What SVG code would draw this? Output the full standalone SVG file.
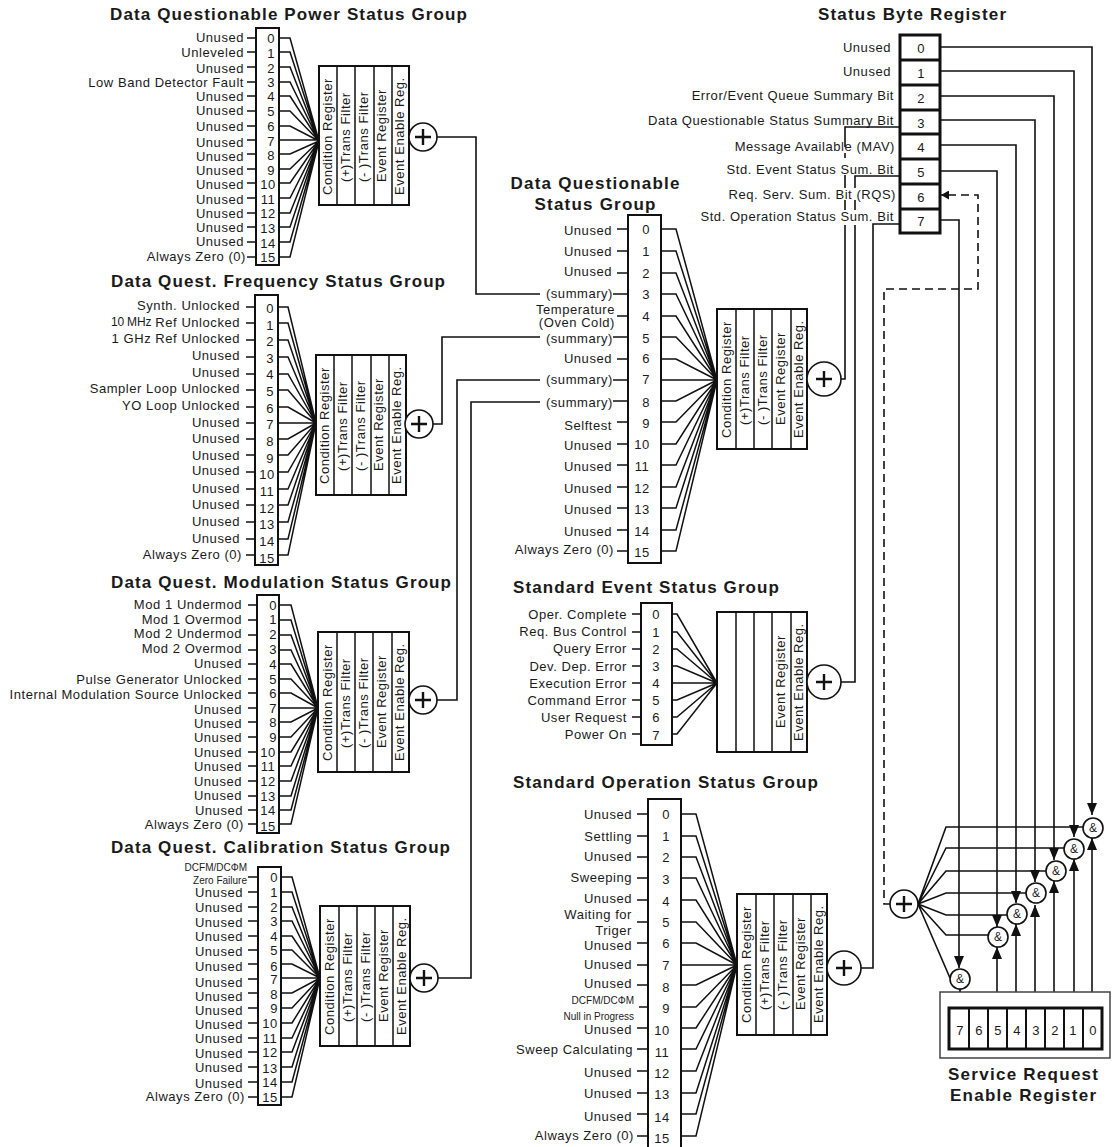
<svg xmlns="http://www.w3.org/2000/svg" width="1113" height="1147" viewBox="0 0 1113 1147">
<style>
text{font-family:"Liberation Sans",Arial,sans-serif;fill:#1a1a1a}
.t{font-size:17px;font-weight:bold}
.l{font-size:13px;letter-spacing:.55px;text-anchor:end;dominant-baseline:central}
.s{font-size:10px;letter-spacing:0;text-anchor:end;dominant-baseline:central}
.n{font-size:13px;letter-spacing:.5px;text-anchor:middle;dominant-baseline:central}
.v{font-size:13px;letter-spacing:.55px}
.a{font-size:12px;text-anchor:middle;dominant-baseline:central}
.box{fill:#fff;stroke:#111;stroke-width:2}
.hv{fill:#fff;stroke:#111;stroke-width:3}
.thin{fill:#fff;stroke:#444;stroke-width:1.5}
.d{fill:none;stroke:#111;stroke-width:1.6}
.c{fill:none;stroke:#111;stroke-width:1.5}
.dash{fill:none;stroke:#111;stroke-width:1.6;stroke-dasharray:8 5}
.or{fill:#fff;stroke:#111;stroke-width:1.6}
.p{fill:none;stroke:#111;stroke-width:2.4}
</style>
<defs>
<marker id="arr" viewBox="0 0 12 10" refX="12" refY="5" markerWidth="12" markerHeight="10" markerUnits="userSpaceOnUse" orient="auto"><path d="M0 0L12 5L0 10z" fill="#111"/></marker>
<marker id="arrs" viewBox="0 0 8 9" refX="8" refY="4.5" markerWidth="8" markerHeight="9" markerUnits="userSpaceOnUse" orient="auto"><path d="M0 0L8 4.500L0 9z" fill="#111"/></marker>
</defs>
<g id="connectors">
<path class="c" d="M247 38H256M247 52H256M247 67H256M247 82H256M247 96H256M247 111H256M247 126H256M247 140H256M247 154H256M247 169H256M247 183H256M247 198H256M247 213H256M247 227H256M247 242H256M247 257H256"/>
<path class="c" d="M279 38H290L319 141M279 52H290L319 141M279 67H290L319 141M279 82H290L319 141M279 96H290L319 141M279 111H290L319 141M279 126H290L319 141M279 140H319M279 154H290L319 141M279 169H290L319 141M279 183H290L319 141M279 198H290L319 141M279 213H290L319 141M279 227H290L319 141M279 242H290L319 141M279 257H290L319 141"/>
<path class="c" d="M246 307H255M246 323H255M246 340H255M246 357H255M246 374H255M246 390H255M246 407H255M246 423H255M246 439H255M246 455H255M246 472H255M246 489H255M246 505H255M246 522H255M246 539H255M246 555H255"/>
<path class="c" d="M278 307H288L316 423M278 323H288L316 423M278 340H288L316 423M278 357H288L316 423M278 374H288L316 423M278 390H288L316 423M278 407H288L316 423M278 423H316M278 439H288L316 423M278 455H288L316 423M278 472H288L316 423M278 489H288L316 423M278 505H288L316 423M278 522H288L316 423M278 539H288L316 423M278 555H288L316 423"/>
<path class="c" d="M248 605H257M248 620H257M248 635H257M248 650H257M248 664H257M248 679H257M248 693H257M248 708H257M248 722H257M248 737H257M248 752H257M248 766H257M248 781H257M248 796H257M248 810H257M248 824H257"/>
<path class="c" d="M279 605H291L318 708M279 620H291L318 708M279 635H291L318 708M279 650H291L318 708M279 664H291L318 708M279 679H291L318 708M279 693H291L318 708M279 708H318M279 722H291L318 708M279 737H291L318 708M279 752H291L318 708M279 766H291L318 708M279 781H291L318 708M279 796H291L318 708M279 810H291L318 708M279 824H291L318 708"/>
<path class="c" d="M248 877H258M248 892H258M248 907H258M248 921H258M248 936H258M248 950H258M248 964H258M248 979H258M248 993H258M248 1008H258M248 1023H258M248 1038H258M248 1052H258M248 1067H258M248 1082H258M248 1097H258"/>
<path class="c" d="M281 877H292L320 978M281 892H292L320 978M281 907H292L320 978M281 921H292L320 978M281 936H292L320 978M281 950H292L320 978M281 964H292L320 978M281 978H320M281 993H292L320 978M281 1008H292L320 978M281 1023H292L320 978M281 1038H292L320 978M281 1052H292L320 978M281 1067H292L320 978M281 1082H292L320 978M281 1097H292L320 978"/>
<path class="c" d="M617 229H628M617 251H628M617 273H628M613 294H628M617 316H628M613 337H628M617 359H628M613 380H628M613 401H628M617 422H628M617 444H628M617 465H628M617 487H628M617 508H628M617 530H628M617 551H628"/>
<path class="c" d="M661 229H676L717 380M661 251H676L717 380M661 273H676L717 380M661 294H676L717 380M661 316H676L717 380M661 337H676L717 380M661 359H676L717 380M661 380H717M661 401H676L717 380M661 422H676L717 380M661 444H676L717 380M661 465H676L717 380M661 487H676L717 380M661 508H676L717 380M661 530H676L717 380M661 551H676L717 380"/>
<path class="c" d="M632 614H641M632 632H641M632 649H641M632 666H641M632 683H641M632 700H641M632 717H641M632 734H641"/>
<path class="c" d="M672 614H677L717 683M672 632H677L717 683M672 649H677L717 683M672 666H677L717 683M672 683H717M672 700H677L717 683M672 717H677L717 683M672 734H677L717 683"/>
<path class="c" d="M637 814H648M637 836H648M637 857H648M637 878H648M637 900H648M637 922H648M637 943H648M637 965H648M637 985H648M639 1007H648M637 1028H648M637 1049H648M637 1071H648M637 1093H648M637 1114H648M637 1136H648"/>
<path class="c" d="M681 814H696L737 965M681 836H696L737 965M681 857H696L737 965M681 878H696L737 965M681 900H696L737 965M681 922H696L737 965M681 943H696L737 965M681 965H737M681 985H696L737 965M681 1007H696L737 965M681 1028H696L737 965M681 1049H696L737 965M681 1071H696L737 965M681 1093H696L737 965M681 1114H696L737 965M681 1136H696L737 965"/>
<path class="d" d="M437 137H476V294H540"/>
<path class="d" d="M433 424H442V337H540"/>
<path class="d" d="M437 700H457V380H540"/>
<path class="d" d="M438 978H471V402H540"/>
<path class="d" d="M841 379H845V225M845 210V200M845 188V175M845 158V153M845 147V127H900"/>
<path class="d" d="M841 682H855V225M855 210V200M855 188V176H900"/>
<path class="d" d="M861 968H873V224H900"/>
<path class="d" marker-end="url(#arr)" d="M940 47H1092V815"/>
<path class="d" marker-end="url(#arr)" d="M940 71H1074V837"/>
<path class="d" marker-end="url(#arr)" d="M940 96H1054V860"/>
<path class="d" marker-end="url(#arr)" d="M940 120H1035V882"/>
<path class="d" marker-end="url(#arr)" d="M940 145H1016V903"/>
<path class="d" marker-end="url(#arr)" d="M940 171H997V927"/>
<path class="d" marker-end="url(#arr)" d="M940 220H959V968"/>
<path class="dash" marker-end="url(#arrs)" d="M891 904H884V289H978V195H941"/>
<path class="d" marker-end="url(#arr)" d="M960 1008V989"/>
<path class="d" marker-end="url(#arr)" d="M997 1008V947"/>
<path class="d" marker-end="url(#arr)" d="M1016 1008V924"/>
<path class="d" marker-end="url(#arr)" d="M1035 1008V905"/>
<path class="d" marker-end="url(#arr)" d="M1054 1008V881"/>
<path class="d" marker-end="url(#arr)" d="M1074 1008V859"/>
<path class="d" marker-end="url(#arr)" d="M1092 1008V838"/>
<path class="d" d="M918 904L946 827H1083M918 904L946 848H1064M918 904L946 871H1046M918 904L946 893H1026M918 904L946 915H1007M918 904L946 935H988M918 904L950 978"/>
</g>

<g id="dq-power">
<text class="t" x="110" y="20" textLength="357">Data Questionable Power Status Group</text>
<rect class="box" x="256" y="28" width="23" height="237"/>
<text class="l" x="244" y="37">Unused</text><text class="l" x="244" y="52">Unleveled</text><text class="l" x="244" y="68">Unused</text><text class="l" x="244" y="82">Low Band Detector Fault</text><text class="l" x="244" y="96">Unused</text><text class="l" x="244" y="110">Unused</text><text class="l" x="244" y="126">Unused</text><text class="l" x="244" y="142">Unused</text><text class="l" x="244" y="156">Unused</text><text class="l" x="244" y="170">Unused</text><text class="l" x="244" y="184">Unused</text><text class="l" x="244" y="199">Unused</text><text class="l" x="244" y="213">Unused</text><text class="l" x="244" y="227">Unused</text><text class="l" x="244" y="241">Unused</text><text class="l" x="246" y="256">Always Zero (0)</text>
<text class="n" x="271" y="38">0</text><text class="n" x="271" y="53">1</text><text class="n" x="271" y="68">2</text><text class="n" x="271" y="82">3</text><text class="n" x="271" y="96">4</text><text class="n" x="271" y="111">5</text><text class="n" x="271" y="126">6</text><text class="n" x="271" y="141">7</text><text class="n" x="271" y="155">8</text><text class="n" x="271" y="170">9</text><text class="n" x="268" y="184">10</text><text class="n" x="268" y="199">11</text><text class="n" x="268" y="213">12</text><text class="n" x="268" y="228">13</text><text class="n" x="268" y="243">14</text><text class="n" x="268" y="257">15</text>
</g>
<g id="dq-power-reg" transform="translate(319,66)">
<rect class="box" width="90" height="139"/><path class="c" d="M18 0V139M36 0V139M55 0V139M73 0V139"/>
<text class="v" transform="translate(13,129) rotate(-90)">Condition Register</text>
<text class="v" transform="translate(31,116) rotate(-90)">(+)Trans Filter</text>
<text class="v" transform="translate(49,116) rotate(-90)">(- )Trans Filter</text>
<text class="v" transform="translate(67,116) rotate(-90)">Event Register</text>
<text class="v" transform="translate(85,129) rotate(-90)">Event Enable Reg.</text>
</g>
<g id="dq-power-or" transform="translate(423,137)"><circle class="or" r="14"/><path class="p" d="M-8 0H8M0-8V8"/></g>

<g id="dq-freq">
<text class="t" x="111" y="287" textLength="334">Data Quest. Frequency Status Group</text>
<rect class="box" x="255" y="295" width="23" height="270"/>
<text class="l" x="240" y="305">Synth. Unlocked</text><text class="l" x="240" y="322"><tspan style="font-size:12px;letter-spacing:-.2px">10 MHz</tspan> Ref Unlocked</text><text class="l" x="240" y="338">1 GHz Ref Unlocked</text><text class="l" x="240" y="355">Unused</text><text class="l" x="240" y="372">Unused</text><text class="l" x="240" y="388">Sampler Loop Unlocked</text><text class="l" x="240" y="405">YO Loop Unlocked</text><text class="l" x="240" y="422">Unused</text><text class="l" x="240" y="438">Unused</text><text class="l" x="240" y="455">Unused</text><text class="l" x="240" y="470">Unused</text><text class="l" x="240" y="488">Unused</text><text class="l" x="240" y="504">Unused</text><text class="l" x="240" y="521">Unused</text><text class="l" x="240" y="538">Unused</text><text class="l" x="242" y="554">Always Zero (0)</text>
<text class="n" x="270" y="308">0</text><text class="n" x="270" y="325">1</text><text class="n" x="270" y="341">2</text><text class="n" x="270" y="358">3</text><text class="n" x="270" y="374">4</text><text class="n" x="270" y="391">5</text><text class="n" x="270" y="408">6</text><text class="n" x="270" y="424">7</text><text class="n" x="270" y="441">8</text><text class="n" x="270" y="458">9</text><text class="n" x="267" y="474">10</text><text class="n" x="267" y="491">11</text><text class="n" x="267" y="508">12</text><text class="n" x="267" y="524">13</text><text class="n" x="267" y="541">14</text><text class="n" x="267" y="558">15</text>
</g>
<g id="dq-freq-reg" transform="translate(316,355)">
<rect class="box" width="90" height="140"/><path class="c" d="M18 0V140M36 0V140M55 0V140M73 0V140"/>
<text class="v" transform="translate(13,129) rotate(-90)">Condition Register</text>
<text class="v" transform="translate(31,116) rotate(-90)">(+)Trans Filter</text>
<text class="v" transform="translate(49,116) rotate(-90)">(- )Trans Filter</text>
<text class="v" transform="translate(67,116) rotate(-90)">Event Register</text>
<text class="v" transform="translate(85,129) rotate(-90)">Event Enable Reg.</text>
</g>
<g id="dq-freq-or" transform="translate(419,424)"><circle class="or" r="14"/><path class="p" d="M-8 0H8M0-8V8"/></g>

<g id="dq-mod">
<text class="t" x="111" y="588" textLength="340">Data Quest. Modulation Status Group</text>
<rect class="box" x="257" y="595" width="22" height="238"/>
<text class="l" x="242" y="604">Mod 1 Undermod</text><text class="l" x="242" y="619">Mod 1 Overmod</text><text class="l" x="242" y="633">Mod 2 Undermod</text><text class="l" x="242" y="648">Mod 2 Overmod</text><text class="l" x="242" y="663">Unused</text><text class="l" x="242" y="679">Pulse Generator Unlocked</text><text class="l" x="242" y="694">Internal Modulation Source Unlocked</text><text class="l" x="242" y="709">Unused</text><text class="l" x="242" y="723">Unused</text><text class="l" x="242" y="737">Unused</text><text class="l" x="242" y="752">Unused</text><text class="l" x="242" y="766">Unused</text><text class="l" x="242" y="781">Unused</text><text class="l" x="242" y="795">Unused</text><text class="l" x="243" y="810">Unused</text><text class="l" x="244" y="824">Always Zero (0)</text>
<text class="n" x="273" y="605">0</text><text class="n" x="273" y="619">1</text><text class="n" x="273" y="634">2</text><text class="n" x="273" y="649">3</text><text class="n" x="273" y="664">4</text><text class="n" x="273" y="679">5</text><text class="n" x="273" y="693">6</text><text class="n" x="273" y="708">7</text><text class="n" x="273" y="722">8</text><text class="n" x="273" y="737">9</text><text class="n" x="268" y="752">10</text><text class="n" x="268" y="766">11</text><text class="n" x="268" y="781">12</text><text class="n" x="268" y="796">13</text><text class="n" x="268" y="810">14</text><text class="n" x="268" y="826">15</text>
</g>
<g id="dq-mod-reg" transform="translate(318,632)">
<rect class="box" width="91" height="140"/><path class="c" d="M19 0V140M37 0V140M55 0V140M74 0V140"/>
<text class="v" transform="translate(14,129) rotate(-90)">Condition Register</text>
<text class="v" transform="translate(32,116) rotate(-90)">(+)Trans Filter</text>
<text class="v" transform="translate(50,116) rotate(-90)">(- )Trans Filter</text>
<text class="v" transform="translate(68,116) rotate(-90)">Event Register</text>
<text class="v" transform="translate(86,129) rotate(-90)">Event Enable Reg.</text>
</g>
<g id="dq-mod-or" transform="translate(423,700)"><circle class="or" r="14"/><path class="p" d="M-8 0H8M0-8V8"/></g>

<g id="dq-cal">
<text class="t" x="111" y="853" textLength="339">Data Quest. Calibration Status Group</text>
<rect class="box" x="258" y="867" width="23" height="238"/>
<text class="s" x="247" y="867">DCFM/DCΦM</text><text class="s" x="247" y="880">Zero Failure</text>
<text class="l" x="243" y="892">Unused</text><text class="l" x="243" y="907">Unused</text><text class="l" x="243" y="922">Unused</text><text class="l" x="243" y="936">Unused</text><text class="l" x="243" y="951">Unused</text><text class="l" x="243" y="966">Unused</text><text class="l" x="243" y="982">Unused</text><text class="l" x="243" y="996">Unused</text><text class="l" x="243" y="1010">Unused</text><text class="l" x="243" y="1024">Unused</text><text class="l" x="243" y="1038">Unused</text><text class="l" x="243" y="1053">Unused</text><text class="l" x="243" y="1067">Unused</text><text class="l" x="243" y="1083">Unused</text><text class="l" x="245" y="1096">Always Zero (0)</text>
<text class="n" x="274" y="877">0</text><text class="n" x="274" y="892">1</text><text class="n" x="274" y="907">2</text><text class="n" x="274" y="921">3</text><text class="n" x="274" y="936">4</text><text class="n" x="274" y="950">5</text><text class="n" x="274" y="966">6</text><text class="n" x="274" y="979">7</text><text class="n" x="274" y="994">8</text><text class="n" x="274" y="1008">9</text><text class="n" x="270" y="1023">10</text><text class="n" x="270" y="1038">11</text><text class="n" x="270" y="1052">12</text><text class="n" x="270" y="1068">13</text><text class="n" x="270" y="1082">14</text><text class="n" x="270" y="1097">15</text>
</g>
<g id="dq-cal-reg" transform="translate(320,906)">
<rect class="box" width="90" height="140"/><path class="c" d="M19 0V140M37 0V140M55 0V140M73 0V140"/>
<text class="v" transform="translate(14,129) rotate(-90)">Condition Register</text>
<text class="v" transform="translate(32,116) rotate(-90)">(+)Trans Filter</text>
<text class="v" transform="translate(50,116) rotate(-90)">(- )Trans Filter</text>
<text class="v" transform="translate(68,116) rotate(-90)">Event Register</text>
<text class="v" transform="translate(86,129) rotate(-90)">Event Enable Reg.</text>
</g>
<g id="dq-cal-or" transform="translate(424,978)"><circle class="or" r="14"/><path class="p" d="M-8 0H8M0-8V8"/></g>

<g id="dq-main">
<text class="t" x="595" y="189" text-anchor="middle" textLength="169">Data Questionable</text>
<text class="t" x="595" y="210" text-anchor="middle" textLength="121">Status Group</text>
<rect class="box" x="628" y="215" width="33" height="348"/>
<text class="l" x="612" y="230">Unused</text><text class="l" x="612" y="251">Unused</text><text class="l" x="612" y="271">Unused</text><text class="l" x="613" y="293">(summary)</text><text class="l" x="615" y="309">Temperature</text><text class="l" x="615" y="322">(Oven Cold)</text><text class="l" x="613" y="338">(summary)</text><text class="l" x="612" y="358">Unused</text><text class="l" x="613" y="379">(summary)</text><text class="l" x="613" y="402">(summary)</text><text class="l" x="612" y="425">Selftest</text><text class="l" x="612" y="445">Unused</text><text class="l" x="612" y="466">Unused</text><text class="l" x="612" y="488">Unused</text><text class="l" x="612" y="509">Unused</text><text class="l" x="612" y="531">Unused</text><text class="l" x="614" y="549">Always Zero (0)</text>
<text class="n" x="646" y="229">0</text><text class="n" x="646" y="251">1</text><text class="n" x="646" y="273">2</text><text class="n" x="646" y="294">3</text><text class="n" x="646" y="316">4</text><text class="n" x="646" y="338">5</text><text class="n" x="646" y="358">6</text><text class="n" x="646" y="379">7</text><text class="n" x="646" y="402">8</text><text class="n" x="646" y="423">9</text><text class="n" x="642" y="444">10</text><text class="n" x="642" y="466">11</text><text class="n" x="642" y="488">12</text><text class="n" x="642" y="509">13</text><text class="n" x="642" y="531">14</text><text class="n" x="642" y="552">15</text>
</g>
<g id="dq-main-reg" transform="translate(717,309)">
<rect class="box" width="90" height="140"/><path class="c" d="M19 0V140M37 0V140M55 0V140M74 0V140"/>
<text class="v" transform="translate(14,129) rotate(-90)">Condition Register</text>
<text class="v" transform="translate(32,116) rotate(-90)">(+)Trans Filter</text>
<text class="v" transform="translate(50,116) rotate(-90)">(- )Trans Filter</text>
<text class="v" transform="translate(68,116) rotate(-90)">Event Register</text>
<text class="v" transform="translate(86,129) rotate(-90)">Event Enable Reg.</text>
</g>
<g id="dq-main-or" transform="translate(824,379)"><circle class="or" r="17"/><path class="p" d="M-8 0H8M0-8V8"/></g>

<g id="std-event">
<text class="t" x="513" y="593" textLength="266">Standard Event Status Group</text>
<rect class="box" x="641" y="603" width="31" height="142"/>
<text class="l" x="627" y="614">Oper. Complete</text><text class="l" x="627" y="631">Req. Bus Control</text><text class="l" x="627" y="648">Query Error</text><text class="l" x="627" y="666">Dev. Dep. Error</text><text class="l" x="627" y="683">Execution Error</text><text class="l" x="627" y="700">Command Error</text><text class="l" x="627" y="717">User Request</text><text class="l" x="627" y="734">Power On</text>
<text class="n" x="656" y="614">0</text><text class="n" x="656" y="632">1</text><text class="n" x="656" y="649">2</text><text class="n" x="656" y="666">3</text><text class="n" x="656" y="683">4</text><text class="n" x="656" y="700">5</text><text class="n" x="656" y="717">6</text><text class="n" x="656" y="735">7</text>
</g>
<g id="std-event-reg" transform="translate(717,612)">
<rect class="box" width="90" height="140"/><path class="c" d="M19 0V140M37 0V140M55 0V140M74 0V140"/>
<text class="v" transform="translate(68,116) rotate(-90)">Event Register</text>
<text class="v" transform="translate(86,129) rotate(-90)">Event Enable Reg.</text>
</g>
<g id="std-event-or" transform="translate(824,682)"><circle class="or" r="17"/><path class="p" d="M-8 0H8M0-8V8"/></g>

<g id="std-oper">
<text class="t" x="513" y="788" textLength="305">Standard Operation Status Group</text>
<path class="box" d="M648 1147V799H681V1147"/>
<text class="l" x="632" y="814">Unused</text><text class="l" x="632" y="836">Settling</text><text class="l" x="632" y="856">Unused</text><text class="l" x="632" y="877">Sweeping</text><text class="l" x="632" y="898">Unused</text><text class="l" x="632" y="914">Waiting for</text><text class="l" x="632" y="930">Triger</text><text class="l" x="632" y="945">Unused</text><text class="l" x="632" y="964">Unused</text><text class="l" x="632" y="983">Unused</text><text class="s" x="634" y="1000">DCFM/DCΦM</text><text class="s" x="634" y="1016">Null in Progress</text><text class="l" x="632" y="1029">Unused</text><text class="l" x="633" y="1049">Sweep Calculating</text><text class="l" x="632" y="1072">Unused</text><text class="l" x="632" y="1093">Unused</text><text class="l" x="632" y="1116">Unused</text><text class="l" x="634" y="1135">Always Zero (0)</text>
<text class="n" x="666" y="814">0</text><text class="n" x="666" y="836">1</text><text class="n" x="666" y="857">2</text><text class="n" x="666" y="879">3</text><text class="n" x="666" y="901">4</text><text class="n" x="666" y="922">5</text><text class="n" x="666" y="943">6</text><text class="n" x="666" y="965">7</text><text class="n" x="666" y="987">8</text><text class="n" x="666" y="1008">9</text><text class="n" x="662" y="1030">10</text><text class="n" x="662" y="1052">11</text><text class="n" x="662" y="1073">12</text><text class="n" x="662" y="1094">13</text><text class="n" x="662" y="1117">14</text><text class="n" x="662" y="1138">15</text>
</g>
<g id="std-oper-reg" transform="translate(737,894)">
<rect class="box" width="90" height="141"/><path class="c" d="M19 0V141M37 0V141M56 0V141M74 0V141"/>
<text class="v" transform="translate(14,129) rotate(-90)">Condition Register</text>
<text class="v" transform="translate(32,116) rotate(-90)">(+)Trans Filter</text>
<text class="v" transform="translate(50,116) rotate(-90)">(- )Trans Filter</text>
<text class="v" transform="translate(68,116) rotate(-90)">Event Register</text>
<text class="v" transform="translate(86,129) rotate(-90)">Event Enable Reg.</text>
</g>
<g id="std-oper-or" transform="translate(844,968)"><circle class="or" r="17"/><path class="p" d="M-8 0H8M0-8V8"/></g>

<g id="status-byte">
<text class="t" x="818" y="20" textLength="188">Status Byte Register</text>
<text class="l" x="891" y="47">Unused</text><text class="l" x="891" y="71">Unused</text><text class="l" x="894" y="95">Error/Event Queue Summary Bit</text><text class="l" x="894" y="120">Data Questionable Status Summary Bit</text><text class="l" x="895" y="146">Message Available (MAV)</text><text class="l" x="894" y="169">Std. Event Status Sum. Bit</text><text class="l" x="896" y="194">Req. Serv. Sum. Bit (RQS)</text><text class="l" x="894" y="216">Std. Operation Status Sum. Bit</text>
<rect class="hv" x="900" y="35" width="40" height="198"/>
<path class="hv" d="M900 60H940M900 85H940M900 110H940M900 134H940M900 159H940M900 184H940M900 209H940"/>
<text class="n" x="921" y="48">0</text><text class="n" x="921" y="73">1</text><text class="n" x="921" y="98">2</text><text class="n" x="921" y="123">3</text><text class="n" x="921" y="147">4</text><text class="n" x="921" y="172">5</text><text class="n" x="921" y="197">6</text><text class="n" x="921" y="221">7</text>
</g>

<g id="srq-or" transform="translate(904,904)"><circle class="or" r="14"/><path class="p" d="M-8 0H8M0-8V8"/></g>
<g id="and-7" transform="translate(960,979)"><circle class="or" r="10"/><text class="a">&amp;</text></g>
<g id="and-5" transform="translate(998,937)"><circle class="or" r="10"/><text class="a">&amp;</text></g>
<g id="and-4" transform="translate(1017,914)"><circle class="or" r="10"/><text class="a">&amp;</text></g>
<g id="and-3" transform="translate(1036,893)"><circle class="or" r="10"/><text class="a">&amp;</text></g>
<g id="and-2" transform="translate(1056,871)"><circle class="or" r="10"/><text class="a">&amp;</text></g>
<g id="and-1" transform="translate(1074,849)"><circle class="or" r="10"/><text class="a">&amp;</text></g>
<g id="and-0" transform="translate(1093,828)"><circle class="or" r="10"/><text class="a">&amp;</text></g>

<g id="srq-enable">
<path class="thin" d="M940 992H1110V1058H940zM949 1008V1049H1102V1008z" fill-rule="evenodd"/>
<rect class="hv" x="949" y="1008" width="153" height="41"/>
<path class="hv" style="stroke-width:2" d="M969 1008V1049M988 1008V1049M1007 1008V1049M1026 1008V1049M1045 1008V1049M1064 1008V1049M1083 1008V1049"/>
<text class="n" x="960" y="1030">7</text><text class="n" x="979" y="1030">6</text><text class="n" x="998" y="1030">5</text><text class="n" x="1017" y="1030">4</text><text class="n" x="1036" y="1030">3</text><text class="n" x="1055" y="1030">2</text><text class="n" x="1073" y="1030">1</text><text class="n" x="1093" y="1030">0</text>
<text class="t" x="1023" y="1080" text-anchor="middle" textLength="150">Service Request</text>
<text class="t" x="1023" y="1101" text-anchor="middle" textLength="146">Enable Register</text>
</g>
</svg>
